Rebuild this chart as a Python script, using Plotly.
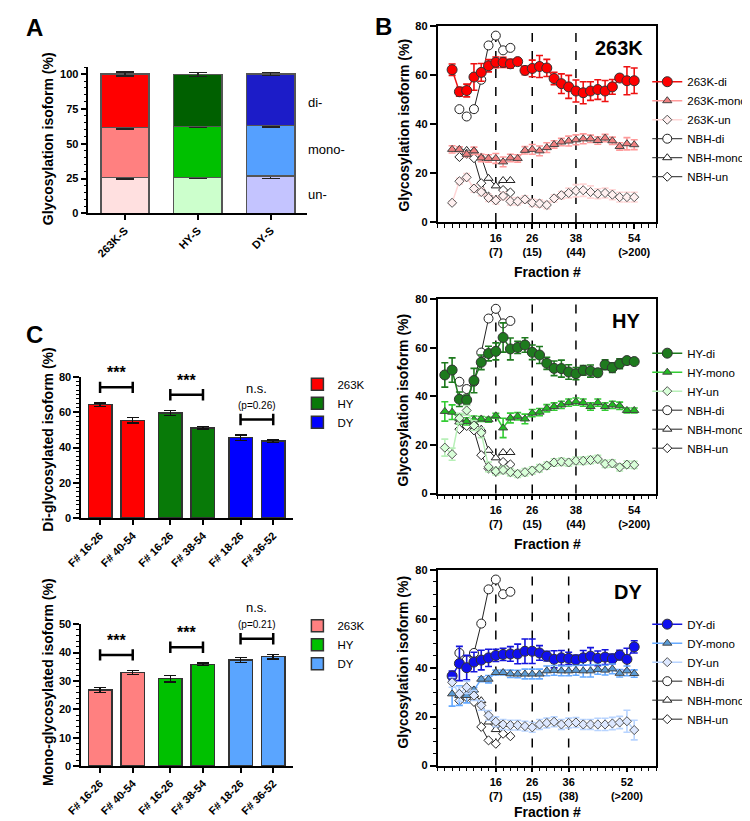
import plotly.graph_objects as go

W, H = 750, 821
def px(x): return x / W
def py(y): return 1 - y / H

FONT = "Liberation Sans, Arial, sans-serif"

# ---------------- Panel A data ----------------
A_cats = ["263K-S", "HY-S", "DY-S"]
A_un = [25.8, 25.9, 26.8]
A_mono = [35.8, 36.4, 36.2]
A_di = [38.4, 37.4, 37.0]
A_un_err = [1.0, 0.9, 1.8]
A_mono_err = [1.0, 0.5, 1.0]
A_di_err = [1.5, 1.5, 1.2]
A_seg_labels = ["un-", "mono-", "di-"]

# ---------------- Panel B data ----------------
frac_4_54 = list(range(4, 55, 2))
frac_2_54 = list(range(2, 55, 2))
frac_nbh = [6, 8, 10, 12, 14, 16, 18, 20]

nbh_di = [46, 43, 46, 58, 72, 76, 70, 71]
nbh_mono = [29.5, 29.2, 29, 26.5, 17.8, 14.7, 16.9, 16.9]
nbh_un = [26.5, 27.8, 26, 15.8, 10.3, 8.9, 13, 12]

k263_di = [62.1, 53.1, 53.6, 59.1, 61, 63.7, 65.1, 65.1, 64.5, 65.4, 61.8, 62.6, 63.4,
           62.8, 58.5, 56.4, 55.1, 53.4, 52.7, 53.4, 54, 53.4, 55.1, 58.7, 57.6, 57.6]
k263_di_err = [2.3, 1.8, 2.6, 5.4, 3.6, 2.5, 2.2, 2.1, 1.8, 0.8, 1.7, 3.4, 4.5, 3.5, 2.5,
               4, 4.7, 4.5, 4.5, 3.8, 4, 4.3, 3, 1.3, 5.7, 5.2]
k263_mono = [29.6, 29.6, 27.6, 29, 26.1, 25.9, 25.9, 24.5, 26.1, 25.9, 29.2, 29.6, 29,
             30.3, 31.6, 32.6, 33, 33.5, 33.9, 33.9, 33.2, 34.2, 33.1, 30.8, 31.9, 31.5]
k263_mono_err = [1.5, 1, 1, 1.5, 1.5, 1.5, 2, 2, 1.5, 1.5, 1.5, 2, 2, 2, 1.5, 1.5, 2, 2,
                 2, 1.5, 1.5, 1.5, 1.5, 1.5, 2.5, 2]
k263_un = [7.8, 16.6, 18.2, 13.6, 12.2, 9.8, 8.8, 10.6, 8.4, 8.4, 9.2, 7.8, 7.5, 6.9,
           9.6, 10.9, 11.8, 12.7, 12.9, 12.2, 11.5, 11.8, 11.1, 10.1, 10.1, 10.1]
k263_un_err = [0.8, 1.2, 1.5, 1.5, 1.5, 1.5, 1.5, 1.5, 1.5, 1.5, 1.5, 1.5, 1.5, 1.5,
               1.5, 1.5, 2, 2.5, 2.5, 2.5, 2, 2, 2, 2, 2, 2]

hy_di = [48.8, 50.8, 38.8, 38.5, 46.5, 54, 57.6, 58.5, 64.2, 59.5, 60.1, 61.1, 58.1, 57,
         53.6, 51.5, 51.4, 50, 49.3, 50.7, 50.4, 49.7, 53, 51.8, 53.4, 54.7, 54.3]
hy_di_err = [5, 5, 3, 2, 5, 3, 3, 3.5, 6, 4.5, 2.5, 3, 3, 3.5, 2.5, 3, 3.5, 3, 2.5, 2,
             2.5, 1.5, 2, 2, 2, 1, 1]
hy_mono = [33.8, 33.5, 30.7, 29.7, 30.4, 30.7, 30.4, 32, 27, 31.1, 31.8, 30.7, 33.1, 33.5,
           35.1, 35.8, 36.5, 37.4, 37.8, 37.4, 35.8, 37.4, 35.8, 36.5, 36.1, 34.2, 34.2]
hy_mono_err = [4, 3, 2, 1.5, 1.5, 1, 1, 1, 4, 2, 1.5, 2, 1.5, 1.5, 1.5, 1.5, 1.5, 1.5,
               1.5, 1.5, 1.5, 1.5, 1.5, 1.5, 1.5, 1, 1]
hy_un = [18.9, 16.2, 31, 34.2, 28, 25, 11, 9.2, 9.7, 8.8, 8.1, 8.8, 9.5, 10.4, 11.5, 12.8,
         13.1, 12.8, 13.5, 13.5, 13.8, 14.2, 12.2, 12.4, 10.8, 11.9, 11.8]
hy_un_err = [3.5, 2.5, 2, 2, 2, 2, 2, 1.5, 1.5, 1.5, 1.5, 1.5, 1.5, 1.5, 1.5, 1.5, 1.5,
             1.5, 1.5, 1.5, 1.5, 1.5, 1.5, 1.5, 1.5, 1.5, 1.5]

dy_di = [36.6, 41.7, 40, 42.3, 43.1, 44, 45, 45.4, 45.6, 45.6, 46.7, 46.7, 46, 44.7, 43.4,
         44, 43.8, 43.2, 44, 44.7, 43.8, 44.3, 43.6, 45.1, 43.4, 48.5]
dy_di_err = [2, 7, 5, 4, 4, 3.5, 2.5, 2.5, 3, 4, 5, 5, 3, 2, 3.5, 3, 2.5, 2, 3, 3.5, 3,
             3, 2, 2, 4.5, 2.5]
dy_mono = [29.3, 28.6, 28.6, 30.9, 35.3, 35.3, 38, 38, 37.5, 37.4, 37.4, 37.4, 37.4, 38.7,
           38.9, 38.7, 38.7, 38.9, 38.7, 38.7, 39.3, 39, 39.5, 37.7, 38.7, 37.6]
dy_mono_err = [5, 4, 3, 1, 1, 1.5, 1, 1, 1.5, 1.5, 2, 2, 2, 2, 2, 2, 2, 2, 2.5, 2.5, 2,
               2, 2, 1.5, 2, 1.5]
dy_un = [34, 29.3, 32, 28.6, 24.6, 20.5, 17.9, 16.8, 16.5, 16.5, 16.1, 15.6, 16.8, 17.4,
         17.9, 16.8, 17.4, 17.6, 16.8, 16.8, 16.8, 16.8, 17.2, 17.6, 18.1, 14.5]
dy_un_err = [2, 3, 2.5, 2, 2, 2, 2, 2, 2, 2, 2, 2, 2, 2, 2, 2, 2, 2, 2, 2, 2.5, 2.5, 2.5,
             2.5, 4.5, 4]

B_ticks_top = [16, 26, 38, 54]
B_ticktext_top = ["16<br>(7)", "26<br>(15)", "38<br>(44)", "54<br>(>200)"]
B_ticks_bot = [16, 26, 36, 52]
B_ticktext_bot = ["16<br>(7)", "26<br>(15)", "36<br>(38)", "52<br>(>200)"]
B_dashed_top = [16, 26, 38]
B_dashed_bot = [16, 26, 36]

# ---------------- Panel C data ----------------
C_groups = ["263K", "HY", "DY"]
C_labels = ["F# 16-26", "F# 40-54", "F# 16-26", "F# 38-54", "F# 18-26", "F# 36-52"]
C_di = [64.3, 55.4, 59.6, 51.2, 45.6, 43.6]
C_di_err = [1.0, 1.5, 1.5, 0.7, 1.5, 0.8]
C_mono = [26.8, 33.0, 30.8, 35.9, 37.4, 38.6]
C_mono_err = [0.9, 0.7, 1.1, 0.5, 0.8, 0.8]
C_di_sig = ["***", "***", "n.s."]
C_di_p = [None, None, "(p=0.26)"]
C_mono_sig = ["***", "***", "n.s."]
C_mono_p = [None, None, "(p=0.21)"]

# ---------------- styles ----------------
A_col_un = ["#ffe0e0", "#ccffcc", "#c4c4ff"]
A_col_mono = ["#ff8080", "#00c000", "#55a0ff"]
A_col_di = ["#ff0000", "#006000", "#1c1cc8"]
C_col_di = ["#ff0000", "#087a08", "#0000ff"]
C_col_mono = ["#ff8080", "#00c000", "#5aa5ff"]

fig = go.Figure()

# Panel A stacked bars
for vals, errs, cols in [(A_un, A_un_err, A_col_un), (A_mono, A_mono_err, A_col_mono),
                         (A_di, A_di_err, A_col_di)]:
    fig.add_trace(go.Bar(
        x=list(range(len(A_cats))), y=vals, width=0.66,
        marker=dict(color=cols, line=dict(color="#555555", width=1.5)),
        error_y=dict(type="data", array=errs, color="#222222", thickness=1.5, width=9),
        xaxis="x", yaxis="y", showlegend=False))

# Panel B
def add_panel_b(idx, x, di, di_e, mono, mono_e, un, un_e, prefix, cdi, cdi_line, cmono,
                cmono_err, cun, cun_err):
    xa, ya, lg = f"x{idx}", f"y{idx}", f"legend{idx}"
    for yv, nm, sym, sz, rk in [(nbh_di, "NBH-di", "circle", 9, 4),
                                 (nbh_mono, "NBH-mono", "triangle-up", 8, 5),
                                 (nbh_un, "NBH-un", "diamond", 7, 6)]:
        fig.add_trace(go.Scatter(
            x=frac_nbh, y=yv, mode="lines+markers", name=nm, legendrank=rk,
            line=dict(color="#222222", width=1),
            marker=dict(symbol=sym, size=sz, color="white",
                        line=dict(color="#222222", width=1)),
            xaxis=xa, yaxis=ya, legend=lg))
    specs = [
        (di, di_e, f"{prefix}-di", "circle", 10, cdi, "#333333", cdi_line, cdi_line, 1),
        (mono, mono_e, f"{prefix}-mono", "triangle-up", 8, cmono, "#444444", cmono_err,
         cmono_err, 2),
        (un, un_e, f"{prefix}-un", "diamond", 7, cun, "#555555", cun_err, cun_err, 3),
    ]
    for yv, ev, nm, sym, sz, fill, outline, lcol, ecol, rk in specs:
        fig.add_trace(go.Scatter(
            x=x, y=yv, mode="lines+markers", name=nm, legendrank=rk,
            line=dict(color=lcol, width=1.5),
            marker=dict(symbol=sym, size=sz, color=fill, line=dict(color=outline, width=1)),
            error_y=dict(type="data", array=ev, color=ecol, thickness=1.6, width=3.5),
            xaxis=xa, yaxis=ya, legend=lg))

add_panel_b(2, frac_4_54, k263_di, k263_di_err, k263_mono, k263_mono_err, k263_un,
            k263_un_err, "263K", "#ff0000", "#ee1111", "#f08080", "#ff9a9a", "#fff0f0",
            "#ffd6d6")
add_panel_b(3, frac_2_54, hy_di, hy_di_err, hy_mono, hy_mono_err, hy_un, hy_un_err, "HY",
            "#1e7a1e", "#1e7a1e", "#22bb22", "#33cc33", "#d8ffd8", "#b8f0b8")
add_panel_b(4, frac_4_54, dy_di, dy_di_err, dy_mono, dy_mono_err, dy_un, dy_un_err, "DY",
            "#1010ee", "#1515dd", "#5b9bd5", "#66aaff", "#dde8ff", "#b8d4ff")

# Panel C
def c_positions(n_groups, per_group, gap):
    pos = []
    for g in range(n_groups):
        for m in range(per_group):
            pos.append(g * (per_group + gap) + m)
    return pos

C_pos = c_positions(3, 2, 0.15)

for idx, vals, errs, cols, lg in [(5, C_di, C_di_err, C_col_di, "legend5"),
                                  (6, C_mono, C_mono_err, C_col_mono, "legend6")]:
    for g, gname in enumerate(C_groups):
        sl = slice(2 * g, 2 * g + 2)
        fig.add_trace(go.Bar(
            x=C_pos[sl], y=vals[sl], width=0.72, name=gname,
            marker=dict(color=cols[g], line=dict(color="#333333", width=1.5)),
            error_y=dict(type="data", array=errs[sl], color="#111111", thickness=1.5, width=6),
            xaxis=f"x{idx}", yaxis=f"y{idx}", legend=lg))

# ---------------- layout ----------------
tickfont = dict(family=FONT, size=11, color="black", weight="bold")
axis_common = dict(showline=True, linecolor="black", linewidth=1.5, ticks="outside",
                   tickcolor="black", tickwidth=1.5, showgrid=False, zeroline=False,
                   tickfont=tickfont)

layout = dict(
    width=W, height=H, autosize=False, margin=dict(l=0, r=0, t=0, b=0),
    paper_bgcolor="white", plot_bgcolor="white", barmode="stack", showlegend=True,
    font=dict(family=FONT, color="black"),
)

layout["xaxis"] = dict(axis_common, domain=[px(66.7), px(290)], range=[-0.5, 2.5],
                       tickvals=list(range(3)), ticktext=A_cats, tickangle=-45, ticklen=5,
                       anchor="y")
layout["yaxis"] = dict(axis_common, domain=[py(202.3), py(53.3)], range=[0, 105.4],
                       tickvals=[0, 25, 50, 75, 100], ticklen=6,
                       minor=dict(dtick=5, ticklen=3, tickcolor="black", tickwidth=1,
                                  ticks="outside"),
                       anchor="x")

B_y = {2: (12, 211), 3: (289.3, 486.7), 4: (564, 762.7)}
for i in (2, 3, 4):
    top, bot = B_y[i]
    tv = B_ticks_bot if i == 4 else B_ticks_top
    tt = B_ticktext_bot if i == 4 else B_ticktext_top
    layout[f"xaxis{i}"] = dict(axis_common, domain=[px(423), px(646)], range=[0, 60],
                               tickvals=tv, ticktext=tt, ticklen=5, mirror=True,
                               minor=dict(dtick=2, tick0=0, ticklen=4, tickcolor="black",
                                          tickwidth=1, ticks="outside"),
                               anchor=f"y{i}")
    ydict = dict(axis_common, domain=[py(bot), py(top)], range=[0, 80], dtick=20,
                 ticklen=6, mirror=True, anchor=f"x{i}")
    if i == 4:
        ydict["minor"] = dict(dtick=5, ticklen=3, tickcolor="black", tickwidth=1,
                              ticks="outside")
    layout[f"yaxis{i}"] = ydict

C_y = {5: (368.3, 511.7, 80, 20, 2.5), 6: (619.3, 763.3, 50, 10, 2)}
for i in (5, 6):
    top, bot, ymax, dt, mdt = C_y[i]
    layout[f"xaxis{i}"] = dict(axis_common, domain=[px(59.3), px(275)],
                               range=[-0.58, 5.89], tickvals=C_pos, ticktext=C_labels,
                               tickangle=-45, ticklen=5, anchor=f"y{i}")
    layout[f"yaxis{i}"] = dict(axis_common, domain=[py(bot), py(top)], range=[0, ymax],
                               dtick=dt, ticklen=6, anchor=f"x{i}",
                               minor=dict(dtick=mdt, ticklen=3, tickcolor="black",
                                          tickwidth=1, ticks="outside"))

leg_font = dict(family=FONT, size=11.5, color="black")
for i, ytop in [(2, 54), (3, 329.5), (4, 604.5)]:
    layout[f"legend{i}"] = dict(
        x=px(637), y=py(ytop), xanchor="left", yanchor="top", font=leg_font,
        bgcolor="rgba(0,0,0,0)", itemwidth=30, tracegroupgap=0, traceorder="normal")
for i, ytop in [(5, 361), (6, 606)]:
    layout[f"legend{i}"] = dict(
        x=px(280), y=py(ytop), xanchor="left", yanchor="top", font=leg_font,
        bgcolor="rgba(0,0,0,0)", itemwidth=30, tracegroupgap=0, traceorder="normal")

fig.update_layout(**layout)

# ---------------- shapes & annotations ----------------
shapes = []
for i in (2, 3, 4):
    for xv in (B_dashed_bot if i == 4 else B_dashed_top):
        shapes.append(dict(type="line", xref=f"x{i}", yref=f"y{i} domain", x0=xv, x1=xv,
                           y0=0, y1=1, layer="below",
                           line=dict(color="black", width=1.5, dash="dash")))

annotations = []
def bracket(idx, vals, errs, ymax, sig, ptxt):
    yref = f"y{idx} domain"
    for g in range(3):
        a, b = C_pos[2 * g], C_pos[2 * g + 1]
        top = max(vals[2 * g] + errs[2 * g], vals[2 * g + 1] + errs[2 * g + 1])
        yb = top / ymax + 0.11
        d = 0.04
        ln = dict(color="black", width=2.5)
        shapes.append(dict(type="line", xref=f"x{idx}", yref=yref, x0=a, x1=b,
                           y0=yb, y1=yb, line=ln))
        for xv in (a, b):
            shapes.append(dict(type="line", xref=f"x{idx}", yref=yref, x0=xv, x1=xv,
                               y0=yb - d, y1=yb + d, line=ln))
        if sig[g] == "***":
            annotations.append(dict(xref=f"x{idx}", yref=yref, x=(a + b) / 2,
                                    y=yb + 0.03, text="***", showarrow=False,
                                    yanchor="bottom",
                                    font=dict(family=FONT, size=16, color="black",
                                              weight="bold")))
        else:
            annotations.append(dict(xref=f"x{idx}", yref=yref, x=(a + b) / 2,
                                    y=yb + 0.155, text=sig[g], showarrow=False,
                                    yanchor="bottom",
                                    font=dict(family=FONT, size=13, color="black")))
        if ptxt[g]:
            annotations.append(dict(xref=f"x{idx}", yref=yref, x=(a + b) / 2,
                                    y=yb + 0.15, text=ptxt[g], showarrow=False,
                                    yanchor="top",
                                    font=dict(family=FONT, size=10, color="black")))

bracket(5, C_di, C_di_err, 80, C_di_sig, C_di_p)
bracket(6, C_mono, C_mono_err, 50, C_mono_sig, C_mono_p)

def ann(x, y, text, size, bold=False, angle=0, xanchor="center"):
    annotations.append(dict(xref="paper", yref="paper", x=px(x), y=py(y), text=text,
                            showarrow=False, textangle=angle, xanchor=xanchor,
                            yanchor="middle",
                            font=dict(family=FONT, size=size, color="black",
                                      weight="bold" if bold else "normal")))

ann(12, 14, "A", 24, True)
ann(368, 13, "B", 24, True)
ann(12, 325, "C", 24, True)
ann(25.5, 126, "Glycosylation isoform (%)", 14, True, -90)
ann(389, 113, "Glycosylation isoform (%)", 14, True, -90)
ann(388, 392, "Glycosylation isoform (%)", 14, True, -90)
ann(388, 658, "Glycosylation isoform (%)", 14, True, -90)
ann(25.5, 432, "Di-glycosylated isoform (%)", 14, True, -90)
ann(25.5, 678, "Mono-glycosylated isoform (%)", 14, True, -90)
ann(535, 262, "Fraction #", 14, True)
ann(535, 538, "Fraction #", 14, True)
ann(535, 810, "Fraction #", 14, True)
ann(635, 35, "263K", 20, True, xanchor="right")
ann(632, 312, "HY", 20, True, xanchor="right")
ann(634, 587, "DY", 20, True, xanchor="right")
for lab, yy in zip(A_seg_labels, [183, 138, 90]):
    ann(289, yy, lab, 13, False, xanchor="left")

fig.update_layout(shapes=shapes, annotations=annotations)
fig.write_html("out.html")
